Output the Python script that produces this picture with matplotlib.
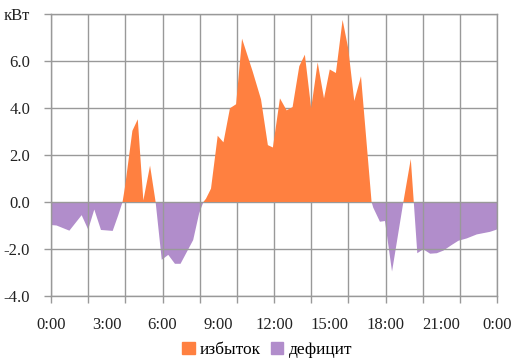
import numpy as np
import matplotlib
matplotlib.use('Agg')
import matplotlib.pyplot as plt
from matplotlib.patches import Patch

# Время (часы) и баланс мощности (кВт)
hours = [0.0, 0.3, 0.99, 1.65, 2.0, 2.33, 2.69, 3.32, 3.62, 3.85, 3.98, 4.38, 4.67,
         4.97, 5.33, 5.63, 5.96, 6.31, 6.67, 6.97, 7.65, 7.97, 8.2, 8.34, 8.61,
         8.97, 9.28, 9.63, 9.96, 10.28, 10.85, 11.3, 11.67, 11.94, 12.32, 12.68,
         13.0, 13.36, 13.66, 14.0, 14.35, 14.69, 15.0, 15.33, 15.69, 15.99, 16.32,
         16.68, 17.25, 17.34, 17.7, 17.97, 18.35, 18.96, 19.36, 19.71, 20.03, 20.4,
         20.76, 21.11, 21.56, 21.92, 22.37, 22.91, 23.62, 24.0]
balance = [-0.98, -1.0, -1.22, -0.56, -1.17, -0.32, -1.19, -1.23, -0.56, 0.0, 0.63,
           3.03, 3.52, 0.07, 1.55, 0.0, -2.46, -2.25, -2.63, -2.63, -1.62, -0.49,
           0.0, 0.14, 0.57, 2.82, 2.54, 3.99, 4.16, 6.95, 5.56, 4.37, 2.42, 2.32,
           4.41, 3.9, 4.04, 5.78, 6.27, 3.99, 5.94, 4.41, 5.64, 5.49, 7.75, 6.55,
           4.3, 5.35, 0.0, -0.24, -0.84, -0.81, -2.96, 0.0, 1.83, -2.18, -2.01,
           -2.2, -2.18, -2.07, -1.83, -1.65, -1.55, -1.38, -1.27, -1.17]

x_labels = ['0:00', '3:00', '6:00', '9:00', '12:00', '15:00', '18:00', '21:00', '0:00']
y_labels = ['-4.0', '-2.0', '0.0', '2.0', '4.0', '6.0', 'кВт']

plt.rcParams['font.family'] = ['Liberation Serif', 'DejaVu Serif']

t = np.array(hours)
v = np.array(balance)

fig = plt.figure(figsize=(5.14, 3.63), dpi=100)
ax = fig.add_axes([0.0992, 0.1846, 0.8678, 0.7768])

orange = '#FF8040'
purple = '#9767BA'
grid_c = '#999999'

ax.fill_between(t, 0, v, where=v >= 0, interpolate=True, color=orange, lw=0, zorder=3)
ax.fill_between(t, 0, v, where=v <= 0, interpolate=True, color=purple, alpha=0.75, lw=0, zorder=1)

ax.set_xlim(0, 24)
ax.set_ylim(-4, 8)

# сетка каждые 2 часа, подписи каждые 3 часа
ax.xaxis.remove_overlapping_locs = False
ax.set_xticks(np.arange(0, 25, 2), minor=True)
ax.set_xticks(np.arange(0, 25, 3))
ax.set_xticklabels(x_labels)
ax.tick_params(axis='x', which='major', length=0, pad=15, labelsize=12, colors='#222222')
ax.tick_params(axis='x', which='minor', length=5, width=1, color=grid_c)
ax.set_yticks(np.arange(-4, 9, 2))
ax.set_yticklabels(y_labels)
ax.tick_params(axis='y', length=5, width=1, labelsize=12, labelcolor='#222222', color=grid_c, pad=10)

for h in np.arange(0, 25, 2):
    ax.axvline(h, color=grid_c, lw=1, zorder=2)
ax.grid(True, which='major', axis='y', color=grid_c, lw=1, zorder=2)
ax.set_axisbelow(False)
for s in ax.spines.values():
    s.set_color(grid_c)
    s.set_linewidth(1)
    s.set_zorder(2)

handles = [Patch(color='#FF8040', label='избыток'), Patch(color='#B18DCB', label='дефицит')]
fig.legend(handles=handles, loc='lower center', ncol=2, frameon=False,
           bbox_to_anchor=(0.52, -0.03), fontsize=12.5, handlelength=0.7,
           handleheight=0.7, handletextpad=0.3, columnspacing=0.6)

fig.savefig('out.png', dpi=100)
